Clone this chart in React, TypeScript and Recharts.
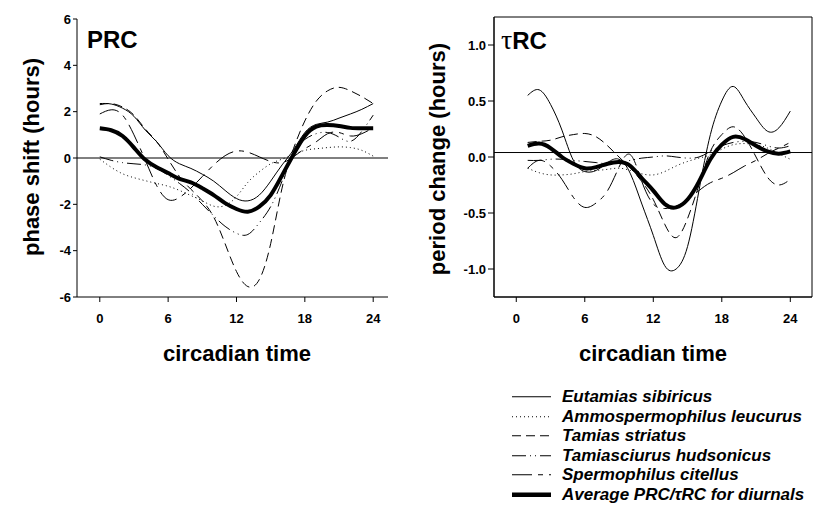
import React from 'react';
import { LineChart, Line, XAxis, YAxis, ReferenceLine, ReferenceArea, Legend } from 'recharts';

// circadian time (hours) at which each curve was read
const HOURS_PRC = [0, 1, 2, 3, 4, 5, 6, 7, 8, 9, 10, 11, 12, 13, 14, 15, 16, 17, 18, 19, 20, 21, 22, 23, 24];
const HOURS_TRC = [1, 2, 3, 4, 5, 6, 7, 8, 9, 10, 11, 12, 13, 14, 15, 16, 17, 18, 19, 20, 21, 22, 23, 24];

// phase shift (hours)
const PRC_EUTAMIAS = [2.35, 2.33, 2.15, 1.8, 1.2, 0.7, 0.1, -0.25, -0.45, -0.7, -1.0, -1.4, -1.75, -1.85, -1.6, -1.0, -0.3, 0.35, 1.1, 1.45, 1.55, 1.72, 1.9, 2.1, 2.35];
const PRC_AMMO = [-0.05, -0.4, -0.68, -0.85, -0.98, -1.1, -1.22, -1.4, -1.62, -1.85, -2.08, -2.05, -1.67, -1.05, -0.6, -0.25, -0.05, 0.15, 0.33, 0.4, 0.45, 0.48, 0.45, 0.33, 0.08];
const PRC_TAMIAS = [2.3, 2.35, 2.2, 1.85, 1.25, 0.7, -0.05, -0.8, -1.35, -1.85, -2.55, -3.7, -4.9, -5.55, -5.25, -3.7, -1.3, 0.4, 1.6, 2.45, 2.9, 3.05, 2.9, 2.65, 2.35];
const PRC_TAMIASCIURUS = [0.05, -0.1, -0.2, -0.25, -0.3, -0.45, -0.75, -1.1, -1.5, -2.0, -2.5, -2.95, -3.25, -3.3, -2.8, -2.1, -1.0, 0.2, 0.8, 1.05, 1.1, 0.9, 0.72, 1.15, 1.85];
const PRC_SPERMOPHILUS = [1.9, 2.08, 1.85, 1.0, -0.1, -1.2, -1.8, -1.7, -1.3, -0.8, -0.3, 0.1, 0.3, 0.25, 0.05, -0.15, -0.2, 0.05, 0.4, 0.7, 1.05, 1.1, 0.95, 1.05, 1.3];
const PRC_AVERAGE = [1.28, 1.2, 0.95, 0.45, -0.08, -0.4, -0.65, -0.9, -1.05, -1.3, -1.6, -1.95, -2.2, -2.32, -2.1, -1.6, -0.75, 0.15, 0.95, 1.35, 1.42, 1.38, 1.3, 1.28, 1.28];

// period change (hours)
const TRC_EUTAMIAS = [0.55, 0.6, 0.47, 0.24, -0.03, -0.13, -0.12, -0.05, -0.02, -0.15, -0.42, -0.7, -0.97, -1.0, -0.8, -0.3, 0.2, 0.5, 0.63, 0.5, 0.35, 0.23, 0.26, 0.41];
const TRC_AMMO = [-0.1, -0.14, -0.16, -0.16, -0.15, -0.13, -0.12, -0.11, -0.1, -0.12, -0.15, -0.16, -0.13, -0.08, -0.04, -0.01, 0.02, 0.07, 0.11, 0.12, 0.11, 0.08, 0.03, -0.02];
const TRC_TAMIAS = [0.13, 0.14, 0.15, 0.18, 0.2, 0.21, 0.18, 0.1, 0.0, -0.1, -0.22, -0.38, -0.6, -0.72, -0.55, -0.25, 0.05, 0.2, 0.27, 0.18, 0.0, -0.18, -0.25, -0.2];
const TRC_TAMIASCIURUS = [-0.03, -0.03, -0.02, -0.02, -0.03, -0.04, -0.05, -0.06, -0.05, -0.03, -0.01, 0.0, 0.01, 0.0, -0.01, 0.0, 0.05, 0.1, 0.13, 0.14, 0.13, 0.1, 0.08, 0.1];
const TRC_SPERMOPHILUS = [-0.1, -0.03, -0.08, -0.2, -0.36, -0.45, -0.41, -0.3, -0.09, 0.02, -0.22, -0.42, -0.46, -0.44, -0.38, -0.3, -0.23, -0.19, -0.14, -0.08, -0.03, 0.03, 0.08, 0.13];
const TRC_AVERAGE = [0.1, 0.12, 0.08, 0.0, -0.06, -0.1, -0.09, -0.06, -0.045, -0.08, -0.19, -0.3, -0.42, -0.45, -0.38, -0.22, -0.02, 0.11, 0.18, 0.16, 0.1, 0.05, 0.03, 0.05];

const X_TICKS = [0, 6, 12, 18, 24];
const PRC_TICKS = [-6, -4, -2, 0, 2, 4, 6];
const TRC_TICKS = [-1, -0.5, 0, 0.5, 1];

const PRC_X = [-2, 25.3];
const TRC_X = [-1.95, 25.9];
const TRC_Y = [-1.25, 1.25];

const FONT = '"Liberation Sans", Arial, sans-serif';

const SERIES = [
  { key: 'eutamias', name: 'Eutamias sibiricus', width: 1, dash: undefined },
  { key: 'ammo', name: 'Ammospermophilus leucurus', width: 1, dash: '1 3' },
  { key: 'tamias', name: 'Tamias striatus', width: 1, dash: '9 5' },
  { key: 'tamiasciurus', name: 'Tamiasciurus hudsonicus', width: 1, dash: '14 4 1 4 1 4' },
  { key: 'spermophilus', name: 'Spermophilus citellus', width: 1, dash: '20 6 5 6' },
  { key: 'average', name: 'Average PRC/\u03c4RC for diurnals', width: 4, dash: undefined },
];

const prcData = HOURS_PRC.map((h, i) => ({
  h,
  eutamias: PRC_EUTAMIAS[i],
  ammo: PRC_AMMO[i],
  tamias: PRC_TAMIAS[i],
  tamiasciurus: PRC_TAMIASCIURUS[i],
  spermophilus: PRC_SPERMOPHILUS[i],
  average: PRC_AVERAGE[i],
}));

const trcData = HOURS_TRC.map((h, i) => ({
  h,
  eutamias: TRC_EUTAMIAS[i],
  ammo: TRC_AMMO[i],
  tamias: TRC_TAMIAS[i],
  tamiasciurus: TRC_TAMIASCIURUS[i],
  spermophilus: TRC_SPERMOPHILUS[i],
  average: TRC_AVERAGE[i],
}));

const tickStyle = { fill: '#000', fontSize: 13, fontWeight: 700, fontFamily: FONT };
const black = { stroke: '#000', strokeWidth: 1 };

const renderLines = () =>
  SERIES.map((s) => (
    <Line
      key={s.key}
      type="natural"
      dataKey={s.key}
      name={s.name}
      stroke="#000"
      strokeWidth={s.width}
      strokeDasharray={s.dash}
      dot={false}
      activeDot={false}
      isAnimationActive={false}
    />
  ));

const SpeciesLegend = () => (
  <div style={{ fontFamily: FONT }}>
    {SERIES.map((s) => (
      <div key={s.key} style={{ display: 'flex', alignItems: 'center', height: 19.5 }}>
        <svg width={39} height={19.5} style={{ display: 'block', flex: 'none' }}>
          <line x1={0} x2={39} y1={9.75} y2={9.75} stroke="#000"
            strokeWidth={s.width === 4 ? 4.5 : 1} strokeDasharray={s.dash} />
        </svg>
        <span style={{ marginLeft: 11, fontSize: 17, fontWeight: 700, fontStyle: 'italic', whiteSpace: 'nowrap', lineHeight: '19.5px' }}>
          {s.name}
        </span>
      </div>
    ))}
  </div>
);

const App = () => {
  return (
    <div style={{ position: 'absolute', left: 0, top: 0, width: 814, height: 516, background: '#fff', overflow: 'hidden' }}>
      <div style={{ position: 'absolute', left: 0, top: 0 }}>
        <LineChart width={400} height={340} data={prcData} margin={{ top: 19, right: 12, bottom: 0, left: 17 }}>
          <XAxis dataKey="h" type="number" domain={PRC_X} ticks={X_TICKS} interval={0}
            height={43} tickSize={5} tickMargin={12} tick={tickStyle} axisLine={black} tickLine={black} />
          <YAxis type="number" domain={[-6, 6]} ticks={PRC_TICKS} interval={0}
            width={60} tickSize={4} tickMargin={2} tick={tickStyle} axisLine={black} tickLine={black} />
          <ReferenceLine y={0} stroke="#000" strokeWidth={1} />
          {renderLines()}
        </LineChart>
      </div>
      <div style={{ position: 'absolute', left: 400, top: 0 }}>
        <LineChart width={414} height={340} data={trcData} margin={{ top: 17, right: 2, bottom: 0, left: 34 }}>
          <XAxis dataKey="h" type="number" domain={TRC_X} ticks={X_TICKS} interval={0}
            height={43} tickSize={5} tickMargin={12} tick={tickStyle} axisLine={black} tickLine={black} />
          <YAxis type="number" domain={TRC_Y} ticks={TRC_TICKS} interval={0}
            tickFormatter={(v: number) => v.toFixed(1)}
            width={60} tickSize={6} tickMargin={2} tick={tickStyle} axisLine={black} tickLine={black} />
          <ReferenceArea x1={TRC_X[0]} x2={TRC_X[1]} y1={TRC_Y[0]} y2={TRC_Y[1]}
            fill="none" fillOpacity={0} stroke="#000" strokeWidth={1} ifOverflow="visible" />
          <ReferenceLine y={0.04} stroke="#000" strokeWidth={1} />
          {renderLines()}
          <Legend layout="vertical" align="center" verticalAlign="middle"
            wrapperStyle={{ position: 'absolute', left: 112, top: 387, width: 302 }}
            content={() => <SpeciesLegend />} />
        </LineChart>
      </div>
      <svg width={814} height={516} style={{ position: 'absolute', left: 0, top: 0, pointerEvents: 'none' }}>
        <g fontFamily={FONT} fontWeight={700} fill="#000">
          <text x={31} y={157} fontSize={22} textAnchor="middle" dominantBaseline="central" transform="rotate(-90 31 157)">
            phase shift (hours)
          </text>
          <text x={437} y={159} fontSize={22} textAnchor="middle" dominantBaseline="central" transform="rotate(-90 437 159)">
            period change (hours)
          </text>
          <text x={237} y={353} fontSize={22} textAnchor="middle" dominantBaseline="central">circadian time</text>
          <text x={653} y={353} fontSize={22} textAnchor="middle" dominantBaseline="central">circadian time</text>
          <text x={87} y={48} fontSize={24}>PRC</text>
          <text x={501} y={49} fontSize={24}>
            <tspan fontFamily='"Liberation Serif", serif' fontWeight={400} fontSize={28}>{'\u03c4'}</tspan>
            <tspan>RC</tspan>
          </text>
        </g>
      </svg>
    </div>
  );
};

export default App;
